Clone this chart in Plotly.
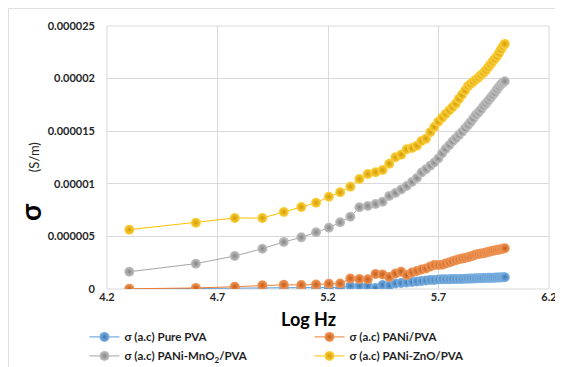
import plotly.graph_objects as go

log_hz = [4.301, 4.602, 4.778, 4.903, 5.000, 5.079, 5.146, 5.204, 5.255, 5.301,
          5.342, 5.380, 5.415, 5.447, 5.477, 5.505, 5.531, 5.556, 5.580, 5.602,
          5.623, 5.643, 5.663, 5.681, 5.699, 5.716, 5.732, 5.748, 5.763, 5.778,
          5.792, 5.806, 5.820, 5.833, 5.845, 5.857, 5.869, 5.881, 5.892, 5.903,
          5.914, 5.924, 5.934, 5.944, 5.954, 5.964, 5.973, 5.982, 5.991, 6.000]

# values in micro S/m (x1e-6)
pure_pva = [0.00, 0.02, 0.08, 0.10, 0.12, 0.12, 0.12, 0.13, 0.14, 0.29,
            0.29, 0.29, 0.10, 0.38, 0.33, 0.52, 0.57, 0.62, 0.67, 0.71,
            0.76, 0.81, 0.86, 0.86, 0.90, 0.92, 0.92, 0.93, 0.94, 0.95,
            0.95, 0.96, 0.97, 0.98, 0.99, 1.00, 1.01, 1.02, 1.03, 1.04,
            1.05, 1.06, 1.06, 1.07, 1.08, 1.09, 1.10, 1.10, 1.11, 1.12]

pani_pva = [0.02, 0.10, 0.22, 0.35, 0.40, 0.38, 0.42, 0.50, 0.52, 1.00,
            0.95, 0.92, 1.43, 1.38, 1.14, 1.47, 1.64, 1.33, 1.57, 1.71,
            1.85, 1.95, 2.14, 2.28, 2.28, 2.30, 2.42, 2.53, 2.63, 2.74,
            2.82, 2.89, 2.95, 3.02, 3.09, 3.18, 3.27, 3.33, 3.37, 3.40,
            3.46, 3.52, 3.57, 3.63, 3.66, 3.70, 3.74, 3.78, 3.83, 3.87]

pani_mno2_pva = [1.64, 2.41, 3.14, 3.83, 4.47, 4.91, 5.39, 5.83, 6.34, 6.87,
                 7.77, 7.89, 8.08, 8.30, 8.84, 9.13, 9.46, 9.79, 10.17, 10.55,
                 11.07, 11.39, 11.71, 12.02, 12.40, 12.89, 13.30, 13.66, 14.02, 14.33,
                 14.63, 14.93, 15.26, 15.57, 15.87, 16.20, 16.54, 16.79, 17.06, 17.37,
                 17.62, 17.87, 18.14, 18.39, 18.65, 18.95, 19.20, 19.44, 19.62, 19.75]

pani_zno_pva = [5.64, 6.30, 6.75, 6.74, 7.32, 7.79, 8.20, 8.77, 9.19, 9.73,
                10.46, 10.93, 11.09, 11.31, 11.91, 12.52, 12.77, 13.28, 13.40, 13.62,
                14.07, 14.29, 14.90, 15.40, 15.90, 16.28, 16.64, 16.96, 17.28, 17.62,
                18.07, 18.46, 18.87, 19.27, 19.48, 19.70, 19.91, 20.11, 20.33, 20.54,
                20.78, 21.06, 21.33, 21.59, 21.85, 22.10, 22.40, 22.75, 23.05, 23.30]

series_names = ["σ (a.c) Pure PVA", "σ (a.c) PANi/PVA",
                "σ (a.c) PANi-MnO<sub>2</sub>/PVA", "σ (a.c) PANi-ZnO/PVA"]
series_values = [pure_pva, pani_pva, pani_mno2_pva, pani_zno_pva]
series_colors = ["#5b9bd5", "#ed7d31", "#a5a5a5", "#ffc000"]
series_light = ["#7fb3e3", "#f49a5c", "#c4c4c4", "#ffd23f"]
series_dark = ["#3a78b4", "#c45c18", "#848484", "#d19c00"]

x_ticks = [4.2, 4.7, 5.2, 5.7, 6.2]
x_tick_labels = ["4.2", "4.7", "5.2", "5.7", "6.2"]
y_ticks = [0, 0.000005, 0.00001, 0.000015, 0.00002, 0.000025]
y_tick_labels = ["0", "0.000005", "0.00001", "0.000015", "0.00002", "0.000025"]

FONT = "Lato"

fig = go.Figure()
for name, vals, c, cl, cd in zip(series_names, series_values, series_colors, series_light, series_dark):
    fig.add_trace(go.Scatter(
        x=log_hz, y=[v * 1e-6 for v in vals], name=name, mode="lines+markers",
        line=dict(color=c, width=1),
        marker=dict(size=10, color=cl, gradient=dict(type="radial", color=cd),
                    line=dict(width=0)),
    ))

fig.update_layout(
    width=555, height=359,
    margin=dict(l=99, r=14, t=18, b=78, autoexpand=False),
    paper_bgcolor="white", plot_bgcolor="white",
    font=dict(family=FONT, color="#1f1f1f"),
    showlegend=True,
    legend=dict(orientation="h", x=-0.051, xanchor="left", y=-0.127, yanchor="top",
                entrywidth=180, entrywidthmode="pixels",
                font=dict(family=FONT, size=11.5, color="#1f1f1f", weight="bold"),
                bgcolor="rgba(0,0,0,0)", tracegroupgap=0),
    xaxis=dict(range=[4.2, 6.2], tickvals=x_ticks, ticktext=x_tick_labels,
               showgrid=True, gridcolor="#d9d9d9", gridwidth=1,
               zeroline=False, showline=False, ticks="",
               tickfont=dict(family=FONT, size=11, color="#262626", weight="bold"),
               mirror=False),
    yaxis=dict(range=[0, 0.000025], tickvals=y_ticks, ticktext=y_tick_labels,
               showgrid=True, gridcolor="#d9d9d9", gridwidth=1,
               zeroline=False, showline=False, ticks="",
               ticklabelstandoff=11,
               tickfont=dict(family=FONT, size=11, color="#262626", weight="bold")),
    annotations=[
        dict(text="<b>Log Hz</b>", xref="paper", yref="paper", x=0.455, y=-0.114,
             xanchor="center", yanchor="middle", showarrow=False,
             font=dict(family=FONT, size=18, color="#000000")),
        dict(text="<b>σ</b>", xref="paper", yref="paper", x=-0.174, y=0.293,
             xanchor="center", yanchor="middle", showarrow=False, textangle=-90,
             font=dict(family=FONT, size=28, color="#000000")),
        dict(text="(S/m)", xref="paper", yref="paper", x=-0.166, y=0.5,
             xanchor="center", yanchor="middle", showarrow=False, textangle=-90,
             font=dict(family=FONT, size=13, color="#262626")),
    ],
    shapes=[
        dict(type="line", xref="paper", yref="paper", x0=-0.2229, x1=1.04, y0=1.0665, y1=1.0665,
             line=dict(color="#e0e0e0", width=1)),
        dict(type="line", xref="paper", yref="paper", x0=-0.2229, x1=-0.2229, y0=1.0665, y1=-0.3,
             line=dict(color="#e0e0e0", width=1)),
        dict(type="rect", xref="paper", yref="paper", x0=0, x1=1, y0=0, y1=1,
             line=dict(color="#d9d9d9", width=1), layer="below"),
    ],
)

fig.write_html("out.html")
